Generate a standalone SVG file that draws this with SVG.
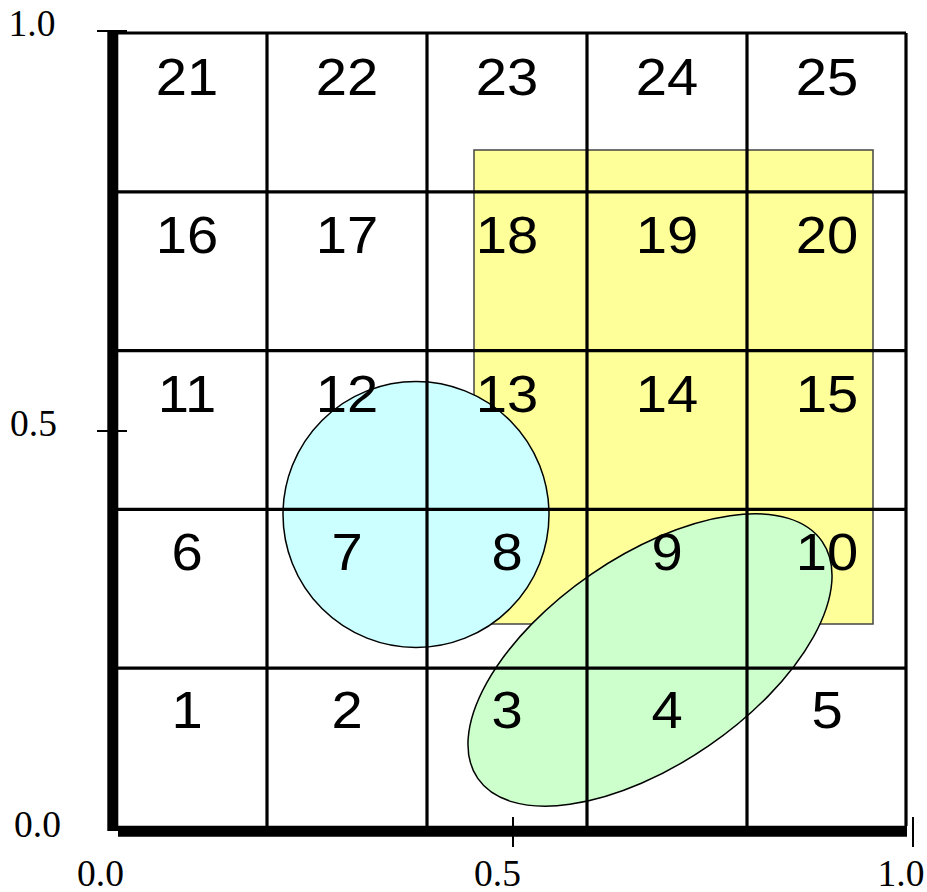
<svg xmlns="http://www.w3.org/2000/svg" width="927" height="892" viewBox="0 0 927 892">
<style>
.num{font-family:"Liberation Sans",Arial,sans-serif;font-size:52.5px;text-anchor:middle;fill:#000}
.lab{font-family:"Liberation Serif","Times New Roman",serif;font-size:37.5px;fill:#000}
.grid{stroke:#000;stroke-width:3.2;fill:none}
.axis{stroke:#000;stroke-width:11;fill:none}
.tick{stroke:#000;stroke-width:2;fill:none}
</style>
<rect width="927" height="892" fill="#fff"/>
<g id="regionA"><rect x="474" y="150" width="399" height="474" fill="#FFFF99" stroke="#444" stroke-width="1.5"/></g>
<g id="regionB"><circle cx="416" cy="514.5" r="133" fill="#CCFFFF" stroke="#000" stroke-width="1.5"/></g>
<g id="regionC"><ellipse cx="650" cy="660" rx="209" ry="104" transform="rotate(-34.5 650 660)" fill="#CCFFCC" stroke="#000" stroke-width="1.5"/></g>
<g id="grid">
<line class="grid" x1="118" y1="33" x2="906" y2="33"/>
<line class="grid" x1="118" y1="191.8" x2="906" y2="191.8"/>
<line class="grid" x1="118" y1="350.6" x2="906" y2="350.6"/>
<line class="grid" x1="118" y1="509.4" x2="906" y2="509.4"/>
<line class="grid" x1="118" y1="668.2" x2="906" y2="668.2"/>
<line class="grid" x1="267" y1="33" x2="267" y2="826"/>
<line class="grid" x1="427" y1="33" x2="427" y2="826"/>
<line class="grid" x1="587" y1="33" x2="587" y2="826"/>
<line class="grid" x1="747" y1="33" x2="747" y2="826"/>
<line class="grid" x1="906" y1="33" x2="906" y2="826"/>
</g>
<g id="axes">
<line class="axis" x1="112.8" y1="31" x2="112.8" y2="831"/>
<line class="axis" x1="118" y1="831.2" x2="907" y2="831.2"/>
<line class="tick" x1="97" y1="31" x2="127" y2="31"/>
<line class="tick" x1="97" y1="431" x2="127" y2="431"/>
<line class="tick" x1="513" y1="817" x2="513" y2="847"/>
<line class="tick" x1="913" y1="817" x2="913" y2="847"/>
<text class="lab" x="8.5" y="36">1.0</text>
<text class="lab" x="10" y="436.3">0.5</text>
<text class="lab" x="14" y="837">0.0</text>
<text class="lab" x="77" y="885.5">0.0</text>
<text class="lab" x="474" y="885.5">0.5</text>
<text class="lab" x="877.5" y="885.5">1.0</text>
</g>
<g id="cells">
<g id="c21"><text class="num" transform="translate(187,95) scale(1.07,1)">21</text></g>
<g id="c22"><text class="num" transform="translate(347,95) scale(1.07,1)">22</text></g>
<g id="c23"><text class="num" transform="translate(507,95) scale(1.07,1)">23</text></g>
<g id="c24"><text class="num" transform="translate(667,95) scale(1.07,1)">24</text></g>
<g id="c25"><text class="num" transform="translate(827,95) scale(1.07,1)">25</text></g>
<g id="c16"><text class="num" transform="translate(187,253.3) scale(1.07,1)">16</text></g>
<g id="c17"><text class="num" transform="translate(347,253.3) scale(1.07,1)">17</text></g>
<g id="c18"><text class="num" transform="translate(507,253.3) scale(1.07,1)">18</text></g>
<g id="c19"><text class="num" transform="translate(667,253.3) scale(1.07,1)">19</text></g>
<g id="c20"><text class="num" transform="translate(827,253.3) scale(1.07,1)">20</text></g>
<g id="c11"><text class="num" transform="translate(187,411.6) scale(1.07,1)">11</text></g>
<g id="c12"><text class="num" transform="translate(347,411.6) scale(1.07,1)">12</text></g>
<g id="c13"><text class="num" transform="translate(507,411.6) scale(1.07,1)">13</text></g>
<g id="c14"><text class="num" transform="translate(667,411.6) scale(1.07,1)">14</text></g>
<g id="c15"><text class="num" transform="translate(827,411.6) scale(1.07,1)">15</text></g>
<g id="c6"><text class="num" transform="translate(187,569.9) scale(1.07,1)">6</text></g>
<g id="c7"><text class="num" transform="translate(347,569.9) scale(1.07,1)">7</text></g>
<g id="c8"><text class="num" transform="translate(507,569.9) scale(1.07,1)">8</text></g>
<g id="c9"><text class="num" transform="translate(667,569.9) scale(1.07,1)">9</text></g>
<g id="c10"><text class="num" transform="translate(827,569.9) scale(1.07,1)">10</text></g>
<g id="c1"><text class="num" transform="translate(187,728.2) scale(1.07,1)">1</text></g>
<g id="c2"><text class="num" transform="translate(347,728.2) scale(1.07,1)">2</text></g>
<g id="c3"><text class="num" transform="translate(507,728.2) scale(1.07,1)">3</text></g>
<g id="c4"><text class="num" transform="translate(667,728.2) scale(1.07,1)">4</text></g>
<g id="c5"><text class="num" transform="translate(827,728.2) scale(1.07,1)">5</text></g>
</g>
</svg>
